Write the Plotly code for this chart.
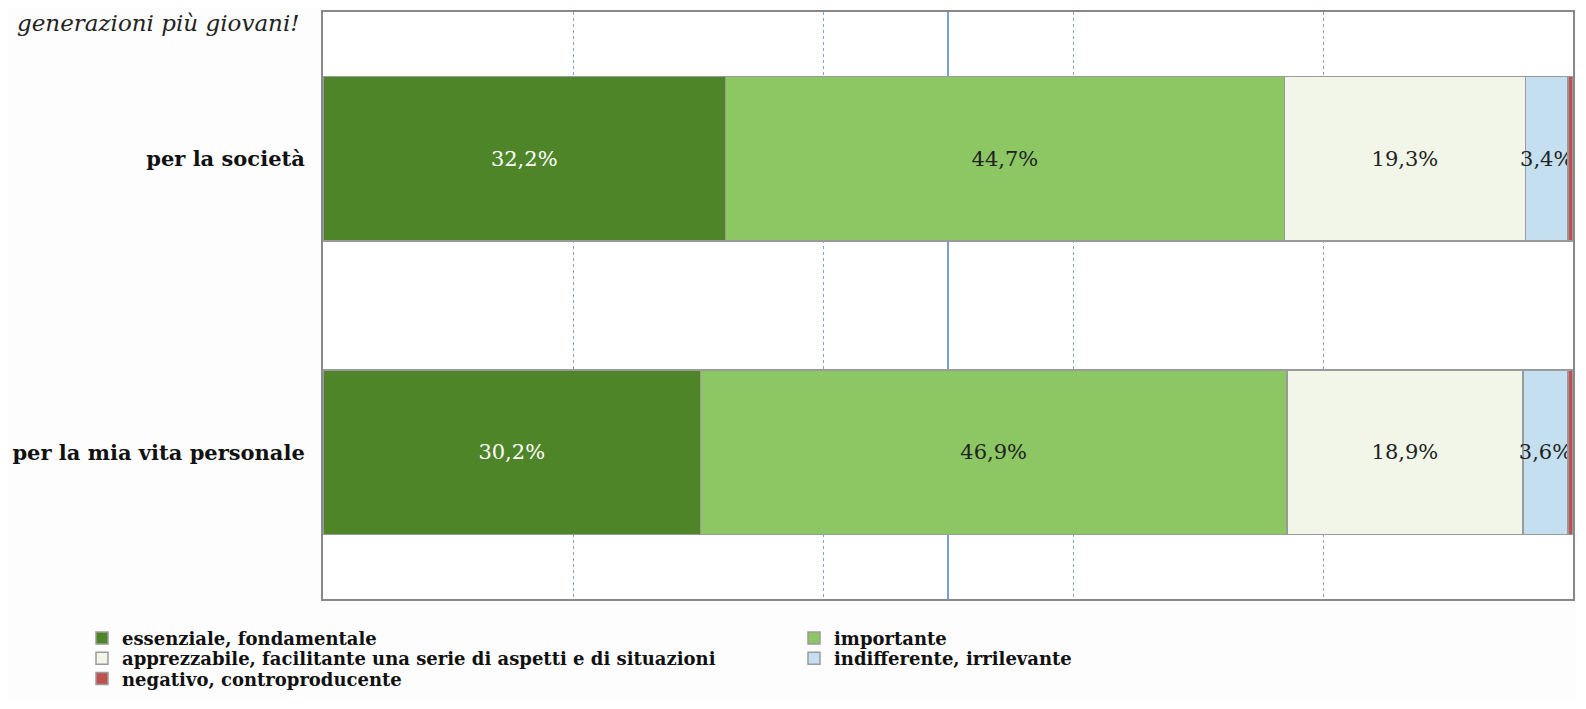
import plotly.graph_objects as go

categories = ["per la mia vita personale", "per la società"]
series_names = [
    "essenziale, fondamentale",
    "importante",
    "apprezzabile, facilitante una serie di aspetti e di situazioni",
    "indifferente, irrilevante",
    "negativo, controproducente",
]
essenziale = [30.2, 32.2]
importante = [46.9, 44.7]
apprezzabile = [18.9, 19.3]
indifferente = [3.6, 3.4]
negativo = [0.4, 0.4]
label_series = [True, True, True, True, False]
legend_rows = ["legend", "legend", "legend2", "legend2", "legend3"]

colors = ["#4e8528", "#8cc764", "#f1f6e8", "#c4e0f0", "#c0504d"]
text_colors = ["white", "#222222", "#222222", "#222222", "#222222"]
values = [essenziale, importante, apprezzabile, indifferente, negativo]

W, H = 1570, 692
L, R, T, B = 315, 5, 4, 101
PW, PH = W - L - R, H - T - B

def px_x(x):
    return (x - L) / PW

def px_y(y):
    return 1 - (y - T) / PH

fig = go.Figure()
for name, vals, col, tc, lab, lg in zip(series_names, values, colors, text_colors, label_series, legend_rows):
    fig.add_trace(go.Bar(
        y=categories, x=vals, name=name, orientation="h",
        marker=dict(color=col, line=dict(color="#9a9a9a", width=1.5)),
        text=[f"{v:.1f}%".replace(".", ",") for v in vals] if lab else None,
        textposition="inside" if lab else "none",
        insidetextanchor="middle",
        textangle=0,
        textfont=dict(color=tc, size=21, family="DejaVu Serif"),
        width=0.56,
        legend=lg,
    ))

fig.add_shape(type="line", x0=50, x1=50, y0=0, y1=1, xref="x", yref="paper",
              line=dict(color="#4a7fc0", width=1.5), layer="below")

legend_font = dict(size=18, family="DejaVu Serif", weight="bold", color="#111111")
def make_legend(ypix):
    return dict(orientation="h", x=px_x(74), y=px_y(ypix), xanchor="left", yanchor="middle",
                entrywidth=667, entrywidthmode="pixels", font=legend_font,
                traceorder="normal", itemwidth=30, bgcolor="rgba(0,0,0,0)")

fig.update_layout(
    barmode="stack",
    width=W, height=H,
    margin=dict(l=L, r=R, t=T, b=B, autoexpand=False),
    paper_bgcolor="#fdfdfd", plot_bgcolor="white",
    font=dict(family="DejaVu Serif", color="#111111"),
    uniformtext=dict(mode="show", minsize=21),
    showlegend=True,
    legend=make_legend(630.4),
    legend2=make_legend(650.6),
    legend3=make_legend(670.8),
    xaxis=dict(range=[0, 100], showgrid=True, gridcolor="#7fa6cf", griddash="dot",
               gridwidth=1, dtick=20, showticklabels=False, zeroline=False,
               showline=True, linecolor="#888888", linewidth=2, mirror=True,
               ticks=""),
    yaxis=dict(showline=True, linecolor="#888888", linewidth=2, mirror=True,
               tickfont=dict(size=21, family="DejaVu Serif", weight="bold", color="#111111"),
               ticks="", ticklabelstandoff=12, range=[-0.5, 1.5]),
    annotations=[dict(text="<i>generazioni più giovani!</i>", x=px_x(7), y=px_y(0),
                      xref="paper", yref="paper", xanchor="left", yanchor="top",
                      showarrow=False, font=dict(size=23, family="DejaVu Serif", color="#222"))],
)

fig.write_html("out.html")
